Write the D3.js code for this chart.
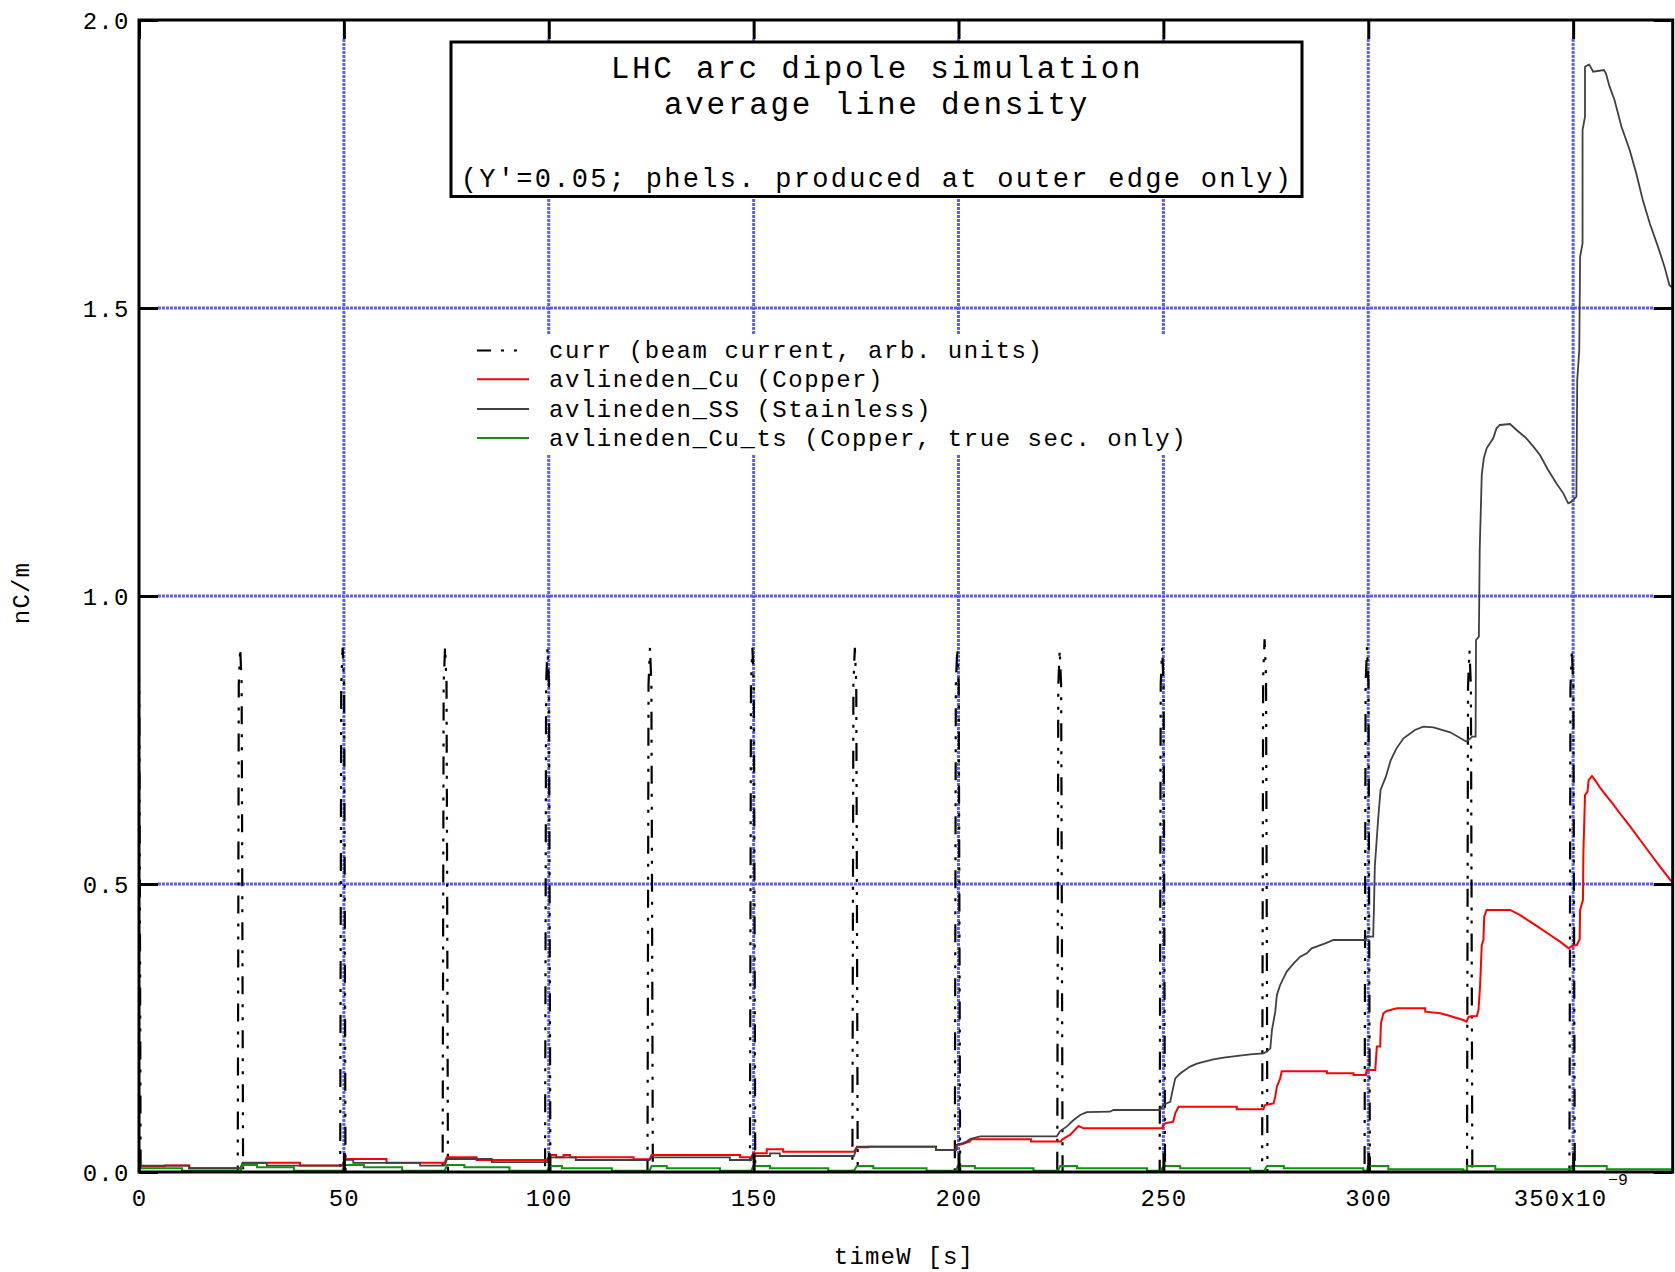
<!DOCTYPE html>
<html>
<head>
<meta charset="utf-8">
<script src="https://cdn.jsdelivr.net/npm/d3@7"></script>
<style>
  html, body { margin: 0; padding: 0; background: #fff; }
  svg { display: block; }
</style>
</head>
<body>
<svg id="chart" width="1675" height="1272"></svg>
<script>
// ---------------- data ----------------
const xTickValues = [0, 50, 100, 150, 200, 250, 300, 350];
const xTickLabels = ["0", "50", "100", "150", "200", "250", "300", "350x10"];
const yTickValues = [0, 0.5, 1.0, 1.5, 2.0];
const yTickLabels = ["0.0", "0.5", "1.0", "1.5", "2.0"];
const timeMax = 374.3;   // ns, right end of the time axis

// beam current: one bunch every 25 ns, arbitrary units
const bunchTimes = [0, 25, 50, 75, 100, 125, 150, 175, 200, 225, 250, 275, 300, 325, 350];
const bunchPeaks = [0.91, 0.91, 0.91, 0.912, 0.91, 0.91, 0.91, 0.91, 0.91, 0.907, 0.91, 0.925, 0.911, 0.906, 0.906];
// bunch profile: time offsets (ns) and fraction of the peak
const pulseOffsets = [-0.9, -0.75, -0.65, -0.3, 0.05, 0.2, 0.4];
const pulseFractions = [0, 0.55, 0.93, 1, 0.93, 0.55, 0];

// average line density, stainless steel chamber [time ns, nC/m]
const ssPoints = [
  [0,0.011],[12.2,0.011],[12.2,0.0065],[24.8,0.0065],[25.3,0.016],[31.2,0.016],[31.2,0.011],[49.6,0.011],
  [50.2,0.021],[52.3,0.021],[52.3,0.016],[68.6,0.016],[68.6,0.011],[74.6,0.011],[75.2,0.0226],[86.1,0.0226],
  [86.1,0.017],[99.6,0.017],[100.3,0.0255],[106.6,0.0255],[106.6,0.0208],[124.6,0.0208],[125.1,0.0255],
  [144.2,0.0255],[144.2,0.0208],[149.4,0.0208],[149.9,0.0278],[154.0,0.0278],[154.0,0.0324],[156.4,0.0324],
  [156.4,0.0278],[174.5,0.0278],[175.2,0.044],[194.5,0.044],[194.5,0.0382],[199.4,0.0382],[199.6,0.047],
  [201.0,0.050],[202.0,0.053],[202.8,0.057],[205.3,0.062],[224.0,0.062],[224.8,0.071],[226.4,0.0787],
  [228.1,0.0903],[229.7,0.099],[231.3,0.104],[237.0,0.1047],[237.8,0.1076],[249.2,0.1076],[250.0,0.1163],
  [251.7,0.122],[252.1,0.137],[252.9,0.1626],[254.1,0.171],[255.3,0.177],[256.5,0.183],[258.2,0.188],
  [259.8,0.191],[262.2,0.1956],[265.1,0.199],[271.2,0.2043],[274.4,0.206],[275.3,0.209],[276.1,0.2148],
  [276.5,0.2465],[277.3,0.2783],[277.7,0.3073],[278.5,0.3247],[280.1,0.348],[281.8,0.3623],[283.4,0.3738],
  [285.0,0.3796],[286.2,0.3883],[289.5,0.397],[291.5,0.4028],[299.4,0.4028],[299.6,0.4086],[301.2,0.4086],
  [301.4,0.4606],[301.6,0.53],[302.4,0.6111],[303.0,0.6632],[304.3,0.6863],[305.5,0.7153],[306.9,0.7355],
  [308.6,0.7529],[311.4,0.7674],[313.4,0.7731],[315.9,0.772],[320.0,0.7633],[324.0,0.7471],[325.4,0.7558],
  [326.2,0.7558],[326.3,0.9236],[327.0,0.9294],[327.2,1.0799],[327.7,1.2101],[328.2,1.2391],[328.9,1.2564],
  [329.7,1.265],[330.5,1.2737],[331.3,1.2911],[332.1,1.2969],[334.6,1.2986],[336.2,1.2882],[338.6,1.2737],
  [340.3,1.2593],[341.9,1.2448],[343.9,1.2188],[345.9,1.1956],[347.6,1.1782],[348.8,1.1609],[349.6,1.1638],
  [350.8,1.1725],[351.0,1.375],[351.5,1.4271],[351.7,1.5891],[352.3,1.6123],[352.3,1.809],[352.9,1.8322],
  [352.9,1.919],[353.9,1.923],[354.9,1.9103],[357.5,1.9132],[358.0,1.9074],[358.9,1.8843],[360.1,1.8611],
  [361.8,1.8148],[363.8,1.7743],[365.4,1.7338],[367.0,1.6875],[368.7,1.647],[370.7,1.6065],[372.3,1.5718],
  [373.5,1.5394],[374.3,1.535]
];

// average line density, copper chamber [time ns, nC/m]
const cuPoints = [
  [0,0.010],[6.3,0.010],[6.3,0.0111],[12.3,0.0111],[12.3,0.0064],[24.8,0.0064],[25.3,0.016],[39.3,0.016],
  [39.3,0.0111],[49.6,0.0111],[50.3,0.0226],[60.4,0.0226],[60.4,0.016],[74.6,0.016],[75.1,0.0255],[82.4,0.0255],
  [82.4,0.0208],[99.5,0.0208],[100.3,0.0295],[101.8,0.0295],[101.8,0.0255],[103.6,0.0255],[103.6,0.0295],
  [105.2,0.0295],[105.2,0.0255],[120.7,0.0255],[120.7,0.022],[124.6,0.022],[125.1,0.0295],[146.7,0.0295],
  [146.7,0.0255],[149.4,0.0255],[149.9,0.0324],[153.2,0.0324],[153.2,0.0394],[157.2,0.0394],[157.2,0.0353],
  [174.5,0.0353],[175.2,0.0428],[178.0,0.0428],[178.0,0.044],[194.5,0.044],[194.5,0.0382],[199.4,0.0382],
  [199.6,0.047],[200.8,0.048],[202.8,0.053],[203.2,0.057],[217.7,0.057],[217.7,0.053],[225.0,0.053],
  [225.2,0.056],[227.3,0.0648],[228.1,0.071],[229.3,0.0799],[230.5,0.0758],[249.6,0.0758],[250.4,0.0845],
  [252.4,0.0874],[252.9,0.102],[253.7,0.1134],[267.9,0.1134],[267.9,0.1088],[274.4,0.1088],[274.8,0.1163],
  [276.9,0.119],[277.3,0.1308],[277.7,0.1481],[278.5,0.1626],[278.9,0.175],[289.9,0.175],[289.9,0.1715],
  [296.4,0.1715],[296.4,0.1684],[299.4,0.1684],[299.6,0.177],[301.7,0.177],[302.1,0.218],[302.9,0.218],
  [303.1,0.2581],[303.7,0.2755],[304.5,0.2795],[307.0,0.2841],[313.9,0.2841],[313.9,0.2784],[317.6,0.2755],
  [320.0,0.2708],[323.2,0.2639],[324.0,0.261],[324.5,0.2697],[326.5,0.2708],[326.9,0.2813],[327.3,0.3247],
  [327.7,0.394],[328.1,0.4028],[328.3,0.4433],[328.9,0.4549],[334.6,0.4549],[337.1,0.446],[339.5,0.4346],
  [342.0,0.423],[344.4,0.4115],[346.8,0.3999],[348.9,0.3883],[349.7,0.3924],[350.9,0.394],[351.6,0.404],
  [351.7,0.4549],[352.4,0.4722],[352.5,0.5532],[352.9,0.6545],[353.5,0.6603],[353.8,0.6806],[354.6,0.6875],
  [355.4,0.68],[356.6,0.667],[359.5,0.641],[361.5,0.622],[363.9,0.600],[366.4,0.576],[368.8,0.553],
  [371.2,0.530],[373.7,0.507],[374.3,0.5023]
];

// average line density, copper, true secondaries only [time ns, nC/m]
const cuTsPoints = [
  [0,0.0064],[10.5,0.0064],[10.5,0.0023],[24.8,0.0023],[25.3,0.012],[28.8,0.012],[28.8,0.0081],[37.8,0.0081],
  [37.8,0.0023],[49.6,0.0023],[50.2,0.012],[54.9,0.012],[54.9,0.0081],[64.2,0.0081],[64.2,0.0023],[74.6,0.0023],
  [75.2,0.012],[79.4,0.012],[79.4,0.0081],[90.4,0.0081],[90.4,0.0023],[99.6,0.0023],[100.3,0.0104],[103.2,0.0104],
  [103.2,0.0064],[115.4,0.0064],[115.4,0.0023],[124.6,0.0023],[125.1,0.0104],[128.8,0.0104],[128.8,0.0064],
  [141.8,0.0064],[141.8,0.0023],[149.4,0.0023],[149.9,0.0104],[154.0,0.0104],[154.0,0.0064],[168.2,0.0064],
  [168.2,0.0023],[174.5,0.0023],[175.2,0.0104],[179.2,0.0104],[179.2,0.0064],[192.2,0.0064],[192.2,0.0023],
  [199.4,0.0023],[199.8,0.0104],[204.0,0.0104],[204.0,0.0064],[218.3,0.0064],[218.3,0.0023],[224.3,0.0023],
  [224.8,0.0104],[228.9,0.0104],[228.9,0.0064],[246.0,0.0064],[246.0,0.0023],[249.4,0.0023],[250.0,0.0104],
  [254.1,0.0104],[254.1,0.0064],[271.2,0.0064],[271.2,0.0023],[274.6,0.0023],[275.3,0.0104],[279.4,0.0104],
  [279.4,0.0064],[298.8,0.0064],[298.8,0.0023],[299.7,0.0023],[299.9,0.0104],[304.9,0.0104],[304.9,0.0046],
  [323.2,0.0046],[323.2,0.0023],[324.1,0.0023],[324.1,0.0104],[331.0,0.0104],[331.0,0.0046],[349.3,0.0046],
  [349.3,0.0023],[349.7,0.0104],[358.2,0.0104],[358.2,0.0046],[374.3,0.0046]
];

const titleLines = ["LHC arc dipole simulation", "average line density", "(Y'=0.05; phels. produced at outer edge only)"];
const legendLabels = [
  "curr (beam current, arb. units)",
  "avlineden_Cu (Copper)",
  "avlineden_SS (Stainless)",
  "avlineden_Cu_ts (Copper, true sec. only)"
];

// ---------------- layout ----------------
const FONT = "'Liberation Mono', 'DejaVu Sans Mono', monospace";
const plot = { left: 139, right: 1672.7, top: 20, bottom: 1172 };
const TICK = 19;
const GRID_COLOR = "#5c5cff";
const CURR_DASH = "18,10,3,10,3,10";

const svg = d3.select("#chart");
const x = d3.scaleLinear().domain([0, timeMax]).range([plot.left, plot.right]);
const y = d3.scaleLinear().domain([0, 2]).range([plot.bottom, plot.top]);

// beam current trace assembled from the bunch list
const currPoints = [];
bunchTimes.forEach((t0, i) => {
  pulseOffsets.forEach((dt, j) => currPoints.push([t0 + dt, bunchPeaks[i] * pulseFractions[j]]));
});
currPoints.push([timeMax, 0]);

// ---------------- grid ----------------
const grid = svg.append("g").attr("class", "grid");
grid.selectAll("line.gx")
  .data(xTickValues.filter(v => v > 0))
  .join("line")
  .attr("class", "gx")
  .attr("x1", d => x(d)).attr("x2", d => x(d))
  .attr("y1", plot.top + TICK).attr("y2", plot.bottom - TICK);
grid.selectAll("line.gy")
  .data(yTickValues.filter(v => v > 0 && v < 2))
  .join("line")
  .attr("class", "gy")
  .attr("x1", plot.left + TICK).attr("x2", plot.right - TICK)
  .attr("y1", d => y(d)).attr("y2", d => y(d));
grid.selectAll("line")
  .attr("stroke", GRID_COLOR)
  .attr("stroke-width", 3)
  .attr("stroke-dasharray", "3,1");

// ---------------- data traces ----------------
svg.append("defs").append("clipPath").attr("id", "plotClip")
  .append("rect")
  .attr("x", plot.left).attr("y", plot.top)
  .attr("width", plot.right - plot.left).attr("height", plot.bottom - plot.top);

const line = d3.line().x(d => x(d[0])).y(d => y(d[1]));
const traces = svg.append("g").attr("clip-path", "url(#plotClip)");

const series = [
  { points: currPoints, color: "#000000", width: 2.2, dash: CURR_DASH },
  { points: cuPoints,   color: "#ff0000", width: 2, dash: null },
  { points: ssPoints,   color: "#404040", width: 1.8, dash: null },
  { points: cuTsPoints, color: "#0a960a", width: 2, dash: null }
];
series.forEach(s => {
  traces.append("path")
    .datum(s.points)
    .attr("d", line)
    .attr("fill", "none")
    .attr("stroke", s.color)
    .attr("stroke-width", s.width)
    .attr("stroke-linejoin", "miter")
    .attr("stroke-dasharray", s.dash);
});

// ---------------- axes ----------------
function styleAxis(g) {
  g.select(".domain").remove();
  g.selectAll(".tick line").attr("stroke", "#000").attr("stroke-width", 3);
  g.selectAll("text")
    .attr("fill", "#000")
    .style("font-family", FONT)
    .style("font-size", "24px")
    .style("letter-spacing", "1.2px");
}

svg.append("g")
  .attr("transform", `translate(0,${plot.bottom})`)
  .call(d3.axisBottom(x).tickValues(xTickValues).tickSize(-TICK).tickFormat((d, i) => xTickLabels[i]))
  .call(styleAxis)
  .call(g => {
    g.selectAll("text").attr("y", 34).attr("dy", 0);
    g.selectAll(".tick").filter(d => d === 350).select("text")
      .attr("text-anchor", "start").attr("x", -60);
  });

svg.append("g")
  .attr("transform", `translate(0,${plot.top})`)
  .call(d3.axisTop(x).tickValues(xTickValues).tickSize(-TICK).tickFormat(""))
  .call(styleAxis);

svg.append("g")
  .attr("transform", `translate(${plot.left},0)`)
  .call(d3.axisLeft(y).tickValues(yTickValues).tickSize(-TICK).tickFormat((d, i) => yTickLabels[i]))
  .call(styleAxis)
  .call(g => g.selectAll("text").attr("x", -9.5).attr("dy", 0).attr("y", 8));

svg.append("g")
  .attr("transform", `translate(${plot.right},0)`)
  .call(d3.axisRight(y).tickValues(yTickValues).tickSize(-TICK).tickFormat(""))
  .call(styleAxis);

// exponent of the time axis
svg.append("text")
  .attr("x", 1608).attr("y", 1185)
  .style("font-family", FONT).style("font-size", "16.5px")
  .text("\u22129");

// plot frame
svg.append("rect")
  .attr("x", plot.left).attr("y", plot.top)
  .attr("width", plot.right - plot.left).attr("height", plot.bottom - plot.top)
  .attr("fill", "none").attr("stroke", "#000").attr("stroke-width", 3);

// axis titles
svg.append("text")
  .attr("x", 904).attr("y", 1264)
  .attr("text-anchor", "middle")
  .style("font-family", FONT).style("font-size", "24px").style("letter-spacing", "1.2px")
  .text("timeW [s]");

svg.append("text")
  .attr("transform", "translate(29,593) rotate(-90)")
  .attr("text-anchor", "middle")
  .style("font-family", FONT).style("font-size", "24px").style("letter-spacing", "1.2px")
  .text("nC/m");

// ---------------- legend ----------------
const legend = svg.append("g");
legend.append("rect")
  .attr("x", 470).attr("y", 334).attr("width", 722).attr("height", 120)
  .attr("fill", "#fff");
const legendRows = [350.4, 379.2, 409.1, 438.0];
series.forEach((s, i) => {
  legend.append("line")
    .attr("x1", 477).attr("x2", 529)
    .attr("y1", legendRows[i]).attr("y2", legendRows[i])
    .attr("stroke", s.color).attr("stroke-width", 2)
    .attr("stroke-dasharray", s.dash ? "14,10,3,10,3,12" : null);
  legend.append("text")
    .attr("x", 549).attr("y", legendRows[i] + 7.5)
    .style("font-family", FONT).style("font-size", "24px").style("letter-spacing", "1.55px")
    .text(legendLabels[i]);
});

// ---------------- title box ----------------
const title = svg.append("g");
title.append("rect")
  .attr("x", 451).attr("y", 42).attr("width", 851).attr("height", 154.5)
  .attr("fill", "#fff").attr("stroke", "#000").attr("stroke-width", 3);
const titleStyles = [
  { y: 78,  size: 31, spacing: 2.7 },
  { y: 114, size: 31, spacing: 2.7 },
  { y: 187, size: 27, spacing: 2.3 }
];
titleLines.forEach((t, i) => {
  title.append("text")
    .attr("x", 877).attr("y", titleStyles[i].y)
    .attr("text-anchor", "middle")
    .style("font-family", FONT)
    .style("font-size", titleStyles[i].size + "px")
    .style("letter-spacing", titleStyles[i].spacing + "px")
    .text(t);
});
</script>
</body>
</html>
